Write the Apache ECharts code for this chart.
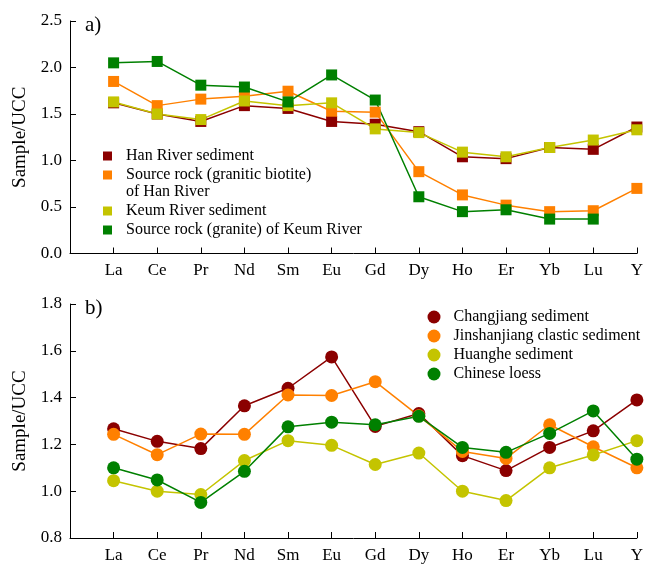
<!DOCTYPE html>
<html>
<head>
<meta charset="utf-8">
<script src="https://cdn.jsdelivr.net/npm/echarts@6/dist/echarts.min.js"></script>
<style>
  html, body { margin: 0; padding: 0; background: #fff; }
  #chart { width: 646px; height: 564px; }
</style>
</head>
<body>
<div id="chart"></div>
<script>
// 元素类别
const elements = ['La', 'Ce', 'Pr', 'Nd', 'Sm', 'Eu', 'Gd', 'Dy', 'Ho', 'Er', 'Yb', 'Lu', 'Y'];

// a) 韩国河流
const namesA = ['Han River sediment', 'Source rock (granitic biotite)\nof Han River', 'Keum River sediment', 'Source rock (granite) of Keum River'];
const hanSed    = [1.62, 1.50, 1.42, 1.59, 1.56, 1.42, 1.39, 1.31, 1.04, 1.02, 1.14, 1.12, 1.36];
const hanRock   = [1.85, 1.59, 1.66, 1.69, 1.745, 1.53, 1.52, 0.88, 0.63, 0.52, 0.45, 0.46, 0.70];
const keumSed   = [1.63, 1.50, 1.44, 1.64, 1.59, 1.62, 1.34, 1.30, 1.09, 1.04, 1.14, 1.22, 1.33];
const keumRock  = [2.05, 2.065, 1.81, 1.79, 1.63, 1.92, 1.65, 0.61, 0.45, 0.47, 0.37, 0.37, null];
const ticksA = [0.0, 0.5, 1.0, 1.5, 2.0, 2.5];

// b) 中国
const namesB = ['Changjiang sediment', 'Jinshanjiang clastic sediment', 'Huanghe sediment', 'Chinese loess'];
const changjiang = [1.267, 1.213, 1.182, 1.365, 1.44, 1.574, 1.277, 1.332, 1.152, 1.088, 1.187, 1.258, 1.39];
const jinsha     = [1.243, 1.156, 1.244, 1.243, 1.411, 1.409, 1.468, 1.322, 1.17, 1.14, 1.284, 1.19, 1.10];
const huanghe    = [1.045, 1.0, 0.986, 1.131, 1.216, 1.196, 1.114, 1.163, 1.0, 0.96, 1.10, 1.155, 1.216];
const loess      = [1.10, 1.048, 0.952, 1.085, 1.275, 1.295, 1.284, 1.32, 1.187, 1.166, 1.247, 1.343, 1.137];
const ticksB = [0.8, 1.0, 1.2, 1.4, 1.6, 1.8];

const colors = ['#8b0000', '#ff8000', '#c4c400', '#008000'];
const font = 'Liberation Serif';

let myChart = echarts.init(document.getElementById('chart'));

// 转成 [x, y]，x 从 1 开始
function toPts(arr) {
  let out = [];
  arr.forEach((v, i) => { if (v !== null) out.push([i + 1, v]); });
  return out;
}

function xAxisOf(grid) {
  return {
    type: 'value', gridIndex: grid, min: 0, max: 13, interval: 1,
    splitLine: { show: false },
    axisLine: { lineStyle: { color: '#000', width: 1 } },
    axisTick: { inside: true, length: 6, lineStyle: { color: '#000' } },
    axisLabel: {
      color: '#000', fontFamily: font, fontSize: 17, margin: 9,
      formatter: v => elements[v - 1] || ''
    }
  };
}

function yAxisOf(grid, ticks) {
  return {
    type: 'value', gridIndex: grid,
    min: ticks[0], max: ticks[ticks.length - 1], interval: ticks[1] - ticks[0],
    name: 'Sample/UCC', nameLocation: 'middle', nameGap: 40,
    nameTextStyle: { color: '#000', fontFamily: font, fontSize: 19 },
    splitLine: { show: false },
    axisLine: { lineStyle: { color: '#000', width: 1 } },
    axisTick: { inside: true, length: 6, lineStyle: { color: '#000' } },
    axisLabel: {
      color: '#000', fontFamily: font, fontSize: 17, margin: 8,
      formatter: v => v.toFixed(1)
    }
  };
}

function lineOf(name, data, color, grid, symbol, size) {
  return {
    name: name, type: 'line', xAxisIndex: grid, yAxisIndex: grid,
    data: toPts(data), symbol: symbol, symbolSize: size,
    itemStyle: { color: color }, lineStyle: { color: color, width: 1.5 },
    emphasis: { disabled: true }
  };
}

// 图例公共样式
function legendOf(data, left, top, icon, size, pad) {
  return {
    data: data, orient: 'vertical', left: left, top: top, padding: 0,
    icon: icon, itemWidth: size, itemHeight: size, itemGap: 1,
    formatter: n => n.split('\n')[0],
    textStyle: { fontFamily: font, fontSize: 16, color: '#000', lineHeight: 18, padding: [0, 0, 0, pad] },
    selectedMode: false
  };
}

myChart.setOption({
  animation: false,
  textStyle: { fontFamily: font },
  grid: [
    { left: 70, top: 21, width: 569, height: 232.5 },
    { left: 70, top: 304, width: 569, height: 236.7 }
  ],
  title: [
    { text: 'a)', left: 80, top: 10, textStyle: { fontFamily: font, fontSize: 21, fontWeight: 'normal', color: '#000' } },
    { text: 'b)', left: 80, top: 293, textStyle: { fontFamily: font, fontSize: 21, fontWeight: 'normal', color: '#000' } }
  ],
  legend: [
    legendOf(namesA.slice(0, 2), 103, 147, 'rect', 9, 9),
    legendOf(namesA.slice(2), 103, 202, 'rect', 9, 9),
    legendOf(namesB, 427.5, 308, 'circle', 13, 8)
  ],
  // 第二个图例条目的第二行
  graphic: [{
    type: 'text', left: 126, top: 184,
    style: { text: namesA[1].split('\n')[1], font: '16px "Liberation Serif"', fill: '#000' }
  }],
  xAxis: [xAxisOf(0), xAxisOf(1)],
  yAxis: [yAxisOf(0, ticksA), yAxisOf(1, ticksB)],
  series: [
    lineOf(namesA[0], hanSed, colors[0], 0, 'rect', 11),
    lineOf(namesA[1], hanRock, colors[1], 0, 'rect', 11),
    lineOf(namesA[2], keumSed, colors[2], 0, 'rect', 11),
    lineOf(namesA[3], keumRock, colors[3], 0, 'rect', 11),
    lineOf(namesB[0], changjiang, colors[0], 1, 'circle', 13),
    lineOf(namesB[1], jinsha, colors[1], 1, 'circle', 13),
    lineOf(namesB[2], huanghe, colors[2], 1, 'circle', 13),
    lineOf(namesB[3], loess, colors[3], 1, 'circle', 13)
  ]
});
</script>
</body>
</html>
